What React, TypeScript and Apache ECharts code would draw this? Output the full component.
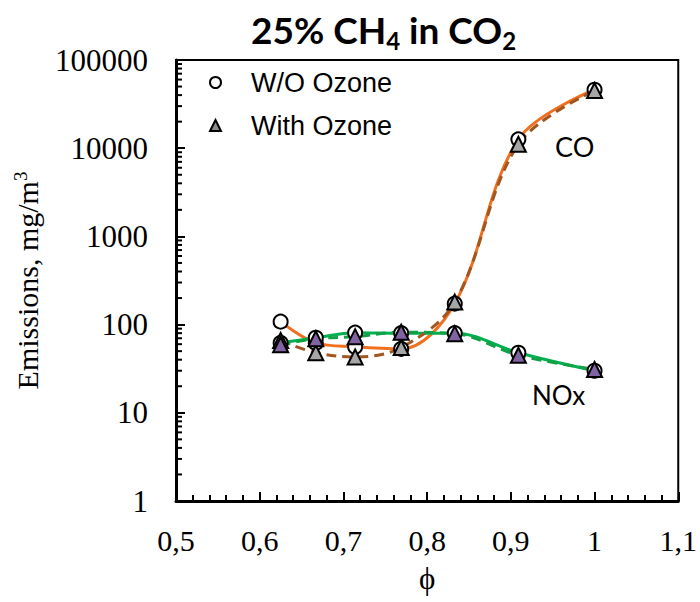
import React, { useEffect, useRef } from "react";
import * as echarts from "echarts";

// Equivalence ratio at each measurement
const phi = [0.625, 0.667, 0.714, 0.769, 0.833, 0.909, 1.0];

// Emissions in mg/m3
const coWithout = [108, 62, 56, 53, 173, 12600, 46000];
const coWith = [66, 48, 43, 55, 180, 11100, 45000];
const noxWithout = [62, 71, 81, 80, 80, 48, 30];
const noxWith = [59, 69, 73, 82, 79, 45, 31];

// Axis settings
const xMin = 0.5;
const xMax = 1.1;
const xStep = 0.1;
const yMin = 1;
const yMax = 100000;
const decades = [1, 10, 100, 1000, 10000];
const minorMultipliers = [2, 3, 4, 5, 6, 7, 8, 9];

const serif = "Liberation Serif";
const sans = "Liberation Sans";

const pairs = (ys: number[]) => phi.map((x, i) => [x, ys[i]]);

export default function App() {
  const ref = useRef<HTMLDivElement>(null);

  useEffect(() => {
    if (!ref.current) return;
    const chart = echarts.init(ref.current, null, { renderer: "svg" });

    // log-decade minor ticks along the left axis
    const minorTickValues: number[][] = [];
    decades.forEach((d) =>
      minorMultipliers.forEach((m) => minorTickValues.push([xMin, d * m]))
    );

    const circleStyle = { color: "#ffffff", borderColor: "#000000", borderWidth: 2 };
    const greyTri = { color: "#a6a6a6", borderColor: "#000000", borderWidth: 2 };
    const purpleTri = { color: "#7f63a3", borderColor: "#000000", borderWidth: 2 };

    chart.setOption({
      animation: false,
      backgroundColor: "#ffffff",
      title: {
        text: "{b|25% CH}{s|4}{b| in CO}{s|2}",
        left: 246,
        top: 2,
        textStyle: {
          rich: {
            b: { fontFamily: "Lato", fontWeight: "bold", fontSize: 37, color: "#000" },
            s: {
              fontFamily: "Lato",
              fontWeight: "bold",
              fontSize: 24,
              color: "#000",
              padding: [21, 0, 0, 0],
            },
          },
        },
      },
      legend: {
        orient: "vertical",
        left: 204,
        top: 64,
        itemWidth: 11,
        itemHeight: 11,
        itemGap: 16,
        textStyle: { fontFamily: sans, fontSize: 27, color: "#000", padding: [0, 0, 0, 25] },
        data: [
          { name: "W/O Ozone", icon: "circle", itemStyle: { color: "#fff", borderColor: "#000", borderWidth: 2 } },
          { name: "With Ozone", icon: "triangle", itemStyle: { color: "#8c8c8c", borderColor: "#000", borderWidth: 2 } },
        ],
      },
      grid: {
        left: 176,
        right: 17,
        top: 60,
        bottom: 101,
        show: true,
        borderColor: "#000",
        borderWidth: 2,
        backgroundColor: "transparent",
      },
      xAxis: {
        type: "value",
        min: xMin,
        max: xMax,
        interval: xStep,
        name: "ϕ",
        nameLocation: "middle",
        nameGap: 62,
        nameTextStyle: { fontFamily: serif, fontSize: 31, color: "#000" },
        axisLine: { show: true, lineStyle: { color: "#000", width: 3 } },
        axisTick: { show: true, inside: true, length: 9, lineStyle: { color: "#000", width: 2 } },
        minorTick: { show: true, splitNumber: 5, length: 6, lineStyle: { color: "#000", width: 2 } },
        splitLine: { show: false },
        axisLabel: {
          margin: 24,
          fontFamily: serif,
          fontSize: 30,
          color: "#000",
          formatter: (v: number) => String(parseFloat(v.toFixed(1))).replace(".", ","),
        },
      },
      yAxis: {
        type: "log",
        logBase: 10,
        min: yMin,
        max: yMax,
        name: "Emissions, mg/m{sup|3}",
        nameLocation: "middle",
        nameGap: 132,
        nameTextStyle: {
          fontFamily: serif,
          fontSize: 30,
          color: "#000",
          rich: {
            sup: { fontFamily: serif, fontSize: 19, color: "#000", padding: [0, 0, 14, 0] },
          },
        },
        axisLine: { show: true, lineStyle: { color: "#000", width: 3 } },
        axisTick: { show: true, inside: true, length: 9, lineStyle: { color: "#000", width: 2 } },
        splitLine: { show: false },
        axisLabel: {
          margin: 28,
          fontFamily: serif,
          fontSize: 31,
          color: "#000",
          formatter: (v: number) => String(Math.round(v)),
        },
      },
      graphic: [
        { type: "text", left: 555, top: 133, style: { text: "CO", fontFamily: "Lato", fontSize: 27, fill: "#000" } },
        { type: "text", left: 532, top: 382, style: { text: "NOx", fontFamily: "Lato", fontSize: 26, fill: "#000" } },
      ],
      series: [
        {
          name: "minor-ticks",
          type: "custom",
          silent: true,
          data: minorTickValues,
          renderItem: (_p: any, api: any) => {
            const pt = api.coord([api.value(0), api.value(1)]);
            return {
              type: "line",
              shape: { x1: pt[0], y1: pt[1], x2: pt[0] + 6, y2: pt[1] },
              style: { stroke: "#000", lineWidth: 2 },
            };
          },
          z: 3,
        },
        {
          name: "W/O Ozone",
          type: "line",
          data: pairs(coWithout),
          smooth: 0.35,
          symbol: "circle",
          symbolSize: 14,
          itemStyle: circleStyle,
          lineStyle: { color: "#f07020", width: 3 },
        },
        {
          name: "W/O Ozone",
          type: "line",
          data: pairs(noxWithout),
          smooth: 0.35,
          symbol: "circle",
          symbolSize: 14,
          itemStyle: circleStyle,
          lineStyle: { color: "#00b050", width: 3 },
        },
        {
          name: "With Ozone",
          type: "line",
          data: pairs(coWith),
          smooth: 0.35,
          symbol: "triangle",
          symbolSize: 15,
          itemStyle: greyTri,
          lineStyle: { color: "#a0561e", width: 3, type: [10, 6] },
        },
        {
          name: "With Ozone",
          type: "line",
          data: pairs(noxWith),
          smooth: 0.35,
          symbol: "triangle",
          symbolSize: 15,
          itemStyle: purpleTri,
          lineStyle: { color: "#12a046", width: 3, type: [10, 6] },
        },
      ],
    });

    return () => chart.dispose();
  }, []);

  return (
    <div
      ref={ref}
      style={{ position: "fixed", left: 0, top: 0, width: 700, height: 602 }}
    />
  );
}
